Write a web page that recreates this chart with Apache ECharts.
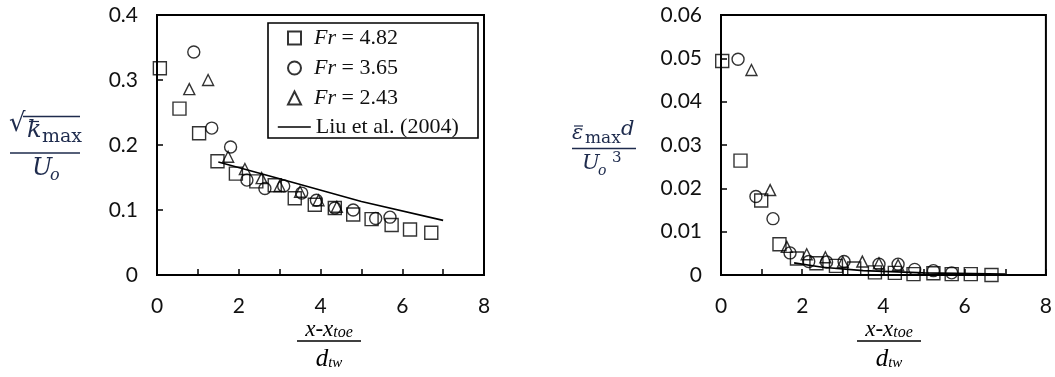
<!DOCTYPE html>
<html>
<head>
<meta charset="utf-8">
<script src="https://cdn.jsdelivr.net/npm/echarts@6/dist/echarts.min.js"></script>
<style>
  html, body { margin: 0; padding: 0; background: #fff; }
  #main { width: 1055px; height: 377px; }
</style>
</head>
<body>
<div id="main"></div>
<script>
// left panel: sqrt(k)max / Uo
const kFr482 = [[0.07,0.318],[0.55,0.256],[1.03,0.218],[1.48,0.175],[1.93,0.156],[2.43,0.144],[2.88,0.138],[3.37,0.118],[3.86,0.108],[4.35,0.103],[4.8,0.093],[5.25,0.086],[5.74,0.077],[6.19,0.070],[6.71,0.065]];
const kFr365 = [[0.9,0.343],[1.34,0.226],[1.8,0.197],[2.2,0.146],[2.64,0.133],[3.1,0.137],[3.54,0.126],[3.9,0.115],[4.35,0.103],[4.8,0.100],[5.35,0.087],[5.7,0.089]];
const kFr243 = [[0.79,0.286],[1.25,0.300],[1.74,0.182],[2.15,0.163],[2.56,0.149],[3.0,0.137],[3.5,0.128],[3.95,0.115],[4.4,0.105]];
const kLiu = [[1.5,0.174],[3,0.148],[5,0.113],[7,0.084]];

// right panel: eps max d / Uo^3
const eFr482 = [[0.03,0.0494],[0.48,0.0264],[0.99,0.0172],[1.44,0.0071],[1.87,0.0038],[2.35,0.0027],[2.83,0.0021],[3.28,0.0015],[3.79,0.0006],[4.28,0.0005],[4.74,0.0002],[5.23,0.0004],[5.68,0.0002],[6.15,0.0002],[6.66,0.0]];
const eFr365 = [[0.42,0.0498],[0.86,0.0181],[1.28,0.0130],[1.70,0.0051],[2.16,0.0031],[2.6,0.0030],[3.03,0.0031],[3.89,0.0025],[4.36,0.0025],[4.77,0.0013],[5.23,0.0010],[5.68,0.0005]];
const eFr243 = [[0.75,0.0473],[1.21,0.0196],[1.62,0.0065],[2.11,0.0048],[2.57,0.0041],[3.0,0.0030],[3.48,0.0031],[3.89,0.0027],[4.36,0.0023]];
const eLiu = [[1.8,0.0028],[2.5,0.0018],[3.5,0.0010],[5,0.0005],[7,0.0002]];

const names = ['Fr = 4.82', 'Fr = 3.65', 'Fr = 2.43'];
const liuName = 'Liu et al. (2004)';

const chart = echarts.init(document.getElementById('main'));

const tickFont = { color: '#111', fontFamily: 'Lato', fontSize: 21 };
function xAxisOf(gi) {
  return {
    gridIndex: gi, type: 'value', min: 0, max: 8, interval: 1,
    axisLine: { lineStyle: { color: '#000', width: 2 } },
    axisTick: { inside: true, length: 6, lineStyle: { color: '#000', width: 1.5 } },
    axisLabel: Object.assign({ margin: 21, formatter: v => (v % 2 === 0 ? String(v) : '') }, tickFont),
    splitLine: { show: false }
  };
}
function yAxisOf(gi, max, step, digits) {
  return {
    gridIndex: gi, type: 'value', min: 0, max: max, interval: step,
    axisLine: { lineStyle: { color: '#000', width: 2 } },
    axisTick: { inside: true, length: 6, lineStyle: { color: '#000', width: 1.5 } },
    axisLabel: Object.assign({ margin: 19, formatter: v => (v === 0 ? '0' : v.toFixed(digits)) }, tickFont),
    splitLine: { show: false }
  };
}

const markStyle = { color: 'transparent', borderColor: '#000', borderWidth: 1.4 };
function scatterOf(name, data, symbol, size, gi) {
  return {
    name: name, type: 'scatter', xAxisIndex: gi, yAxisIndex: gi,
    symbol: symbol, symbolSize: size, data: data,
    itemStyle: markStyle, emphasis: { disabled: true }
  };
}
function liuOf(data, gi) {
  return {
    name: liuName, type: 'line', xAxisIndex: gi, yAxisIndex: gi,
    data: data, symbol: 'none', smooth: false,
    lineStyle: { color: '#000', width: 1.6 }, itemStyle: { color: '#000' }
  };
}

// axis titles are fractions, drawn as text + bars
const serif = 'Liberation Serif';
const mathFont = 'DejaVu Serif';
const navy = '#1e2b4d';
function bar(x1, y1, x2, y2, color, w) {
  return { type: 'line', shape: { x1: x1, y1: y1, x2: x2, y2: y2 }, style: { stroke: color, lineWidth: w || 1.4 }, silent: true };
}
function txt(x, y, text, font, color, align) {
  return { type: 'text', x: x, y: y, silent: true,
    style: { text: text, font: font, fill: color, align: align || 'left', verticalAlign: 'top' } };
}
function xTitle(cx) {
  return [
    { type: 'text', x: cx, y: 318, silent: true, style: {
      text: '{a|x-x}{b|toe}', align: 'center', verticalAlign: 'top',
      rich: { a: { fontFamily: serif, fontStyle: 'italic', fontSize: 23, fill: '#000' },
              b: { fontFamily: serif, fontStyle: 'italic', fontSize: 16, fill: '#000', padding: [6, 0, 0, 0] } } } },
    bar(cx - 32, 341, cx + 32, 341, '#000', 1.5),
    { type: 'text', x: cx, y: 347, silent: true, style: {
      text: '{a|d}{b|tw}', align: 'center', verticalAlign: 'top',
      rich: { a: { fontFamily: serif, fontStyle: 'italic', fontSize: 25, fill: '#000' },
              b: { fontFamily: serif, fontStyle: 'italic', fontSize: 15, fill: '#000', padding: [8, 0, 0, 0] } } } }
  ];
}

const graphics = [].concat(
  // left y title
  txt(9, 111, '√', '26px ' + mathFont, navy),
  bar(23, 116.5, 80, 116.5, navy, 1.3),
  txt(27, 119, 'k', 'italic 24px ' + mathFont, navy),
  bar(29, 121.5, 39, 121.5, navy, 1.2),
  txt(42, 128, 'max', '19px ' + mathFont, navy),
  bar(10, 153, 80, 153, navy, 1.5),
  txt(32, 157, 'U', 'italic 24px ' + mathFont, navy),
  txt(50, 168, 'o', 'italic 16px ' + mathFont, navy),
  // right y title
  txt(572, 123, 'ε', 'italic 21px ' + mathFont, navy),
  bar(574, 126, 583, 126, navy, 1.2),
  txt(585, 130, 'max', '17px ' + mathFont, navy),
  txt(621, 119, 'd', 'italic 21px ' + mathFont, navy),
  bar(572, 148.5, 636, 148.5, navy, 1.5),
  txt(582, 153, 'U', 'italic 21px ' + mathFont, navy),
  txt(598, 164, 'o', 'italic 14px ' + mathFont, navy),
  txt(612, 151, '3', '15px ' + mathFont, navy),
  // x titles
  xTitle(329),
  xTitle(889),
  // legend box
  { type: 'rect', shape: { x: 268, y: 23, width: 210, height: 115 }, style: { fill: 'transparent', stroke: '#000', lineWidth: 1.6 }, silent: true }
);

const legendText = {
  fontFamily: serif, fontSize: 22, color: '#111', lineHeight: 22,
  rich: {
    i: { fontFamily: serif, fontStyle: 'italic', fontSize: 22, color: '#111' },
    n: { fontFamily: serif, fontSize: 22, color: '#111' }
  }
};

chart.setOption({
  backgroundColor: '#fff',
  animation: false,
  grid: [
    { left: 157, top: 15, width: 327, height: 260, show: true, borderColor: '#000', borderWidth: 2 },
    { left: 721, top: 15, width: 327, height: 260, show: true, borderColor: '#000', borderWidth: 2 }
  ],
  xAxis: [xAxisOf(0), xAxisOf(1)],
  yAxis: [yAxisOf(0, 0.4, 0.1, 1), yAxisOf(1, 0.06, 0.01, 2)],
  legend: [
    {
      data: names, orient: 'vertical', left: 287, top: 27, padding: 0,
      itemWidth: 13, itemHeight: 13, itemGap: 8, selectedMode: false,
      formatter: name => '{i|Fr}{n|' + name.slice(2) + '}',
      textStyle: Object.assign({ padding: [0, 0, 0, 8] }, legendText)
    },
    {
      data: [{ name: liuName, itemStyle: { opacity: 0 }, lineStyle: { color: '#000', width: 1.6, opacity: 1 } }],
      orient: 'vertical', left: 277, top: 116, padding: 0,
      itemWidth: 33, itemHeight: 13, selectedMode: false,
      textStyle: legendText
    }
  ],
  graphic: graphics,
  series: [
    scatterOf(names[0], kFr482, 'rect', 13, 0),
    scatterOf(names[1], kFr365, 'circle', 12, 0),
    scatterOf(names[2], kFr243, 'triangle', 11, 0),
    liuOf(kLiu, 0),
    scatterOf(names[0], eFr482, 'rect', 13, 1),
    scatterOf(names[1], eFr365, 'circle', 12, 1),
    scatterOf(names[2], eFr243, 'triangle', 11, 1),
    liuOf(eLiu, 1)
  ]
});
</script>
</body>
</html>
